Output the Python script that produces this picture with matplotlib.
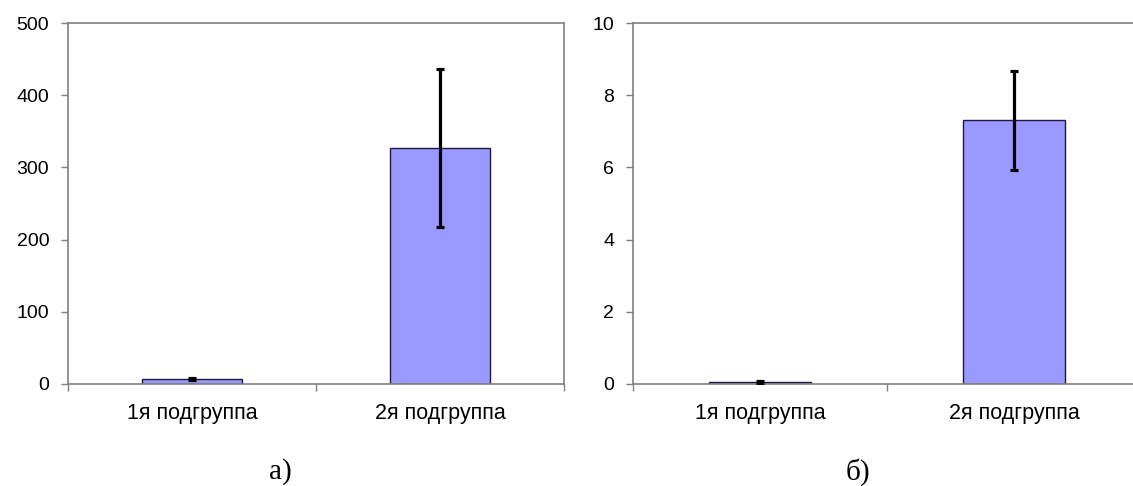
import matplotlib.pyplot as plt

# Data
groups = ["1я подгруппа", "2я подгруппа"]

means_a = [7, 327]
errs_a = [1.5, 109]

means_b = [0.05, 7.3]
errs_b = [0.03, 1.37]

BAR_COLOR = "#9999ff"
AXIS_COLOR = "#808080"

plt.rcParams["font.family"] = ["Liberation Sans", "DejaVu Sans"]

fig = plt.figure(figsize=(11.33, 4.86), dpi=100)
W, H = 1133, 486


def panel(rect, means, errs, ymax, yticks, label, label_x):
    left, bottom, right, top = rect
    ax = fig.add_axes([left / W, 1 - bottom / H, (right - left) / W, (bottom - top) / H])
    x = list(range(len(groups)))
    ax.bar(x, means, width=0.4, color=BAR_COLOR, edgecolor="#1a1a40", linewidth=1.0, zorder=2)
    ax.errorbar(x, means, yerr=errs, fmt="none", ecolor="black", elinewidth=2.3,
                capsize=2.6, capthick=2.3, zorder=3)
    ax.set_xlim(-0.5, len(groups) - 0.5)
    ax.set_ylim(0, ymax)
    ax.set_yticks(yticks)
    ax.set_yticklabels([str(t) for t in yticks], fontsize=14)

    # category boundaries get tick marks, labels sit between them
    ax.set_xticks([i - 0.5 for i in range(len(groups) + 1)])
    ax.set_xticklabels([])
    ax.set_xticks(x, minor=True)
    ax.set_xticklabels(groups, minor=True, fontsize=15.5)
    ax.tick_params(axis="both", which="major", direction="out", length=5,
                   width=1, color=AXIS_COLOR, pad=8.5)
    ax.tick_params(axis="x", which="minor", length=0, pad=14)

    for s in ax.spines.values():
        s.set_color(AXIS_COLOR)
        s.set_linewidth(1.2)

    fig.text(label_x / W, 1 - 472 / H, label, family="Liberation Serif",
             fontsize=21, ha="center", va="center")
    return ax


panel((68, 384, 564, 23), means_a, errs_a, 500, [0, 100, 200, 300, 400, 500], "а)", 280)
panel((633, 384, 1141, 23), means_b, errs_b, 10, [0, 2, 4, 6, 8, 10], "б)", 858)

fig.savefig("out.png", dpi=100)
